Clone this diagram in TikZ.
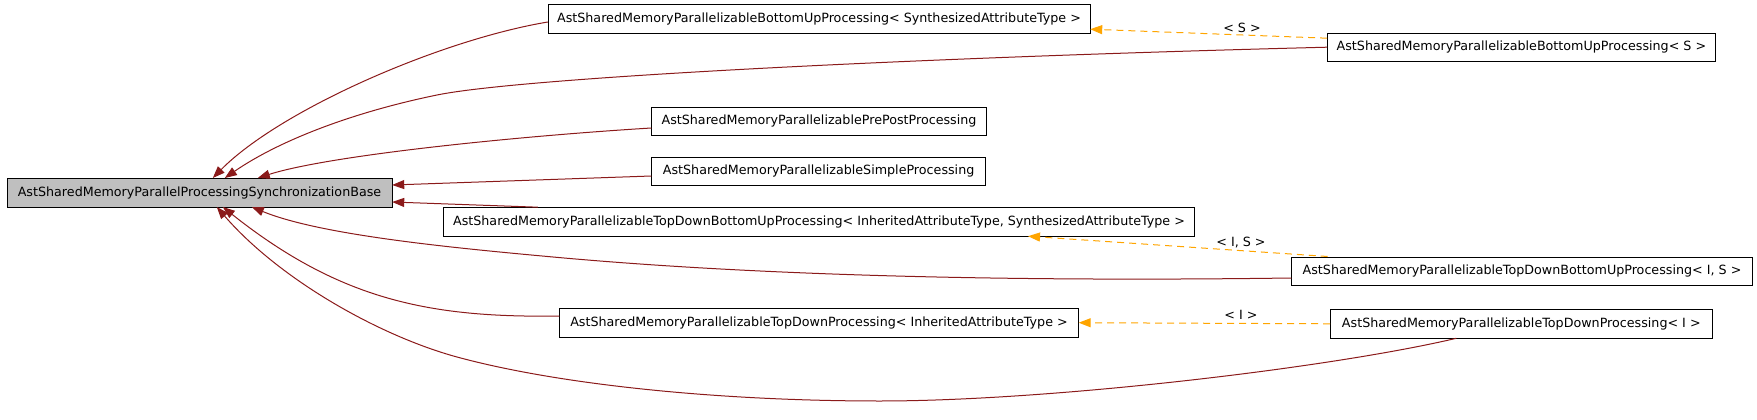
\documentclass[tikz,border=0pt]{standalone}
\usepackage{fontspec}
\setmainfont{DejaVu Sans}
\usetikzlibrary{arrows.meta}
\definecolor{inhred}{HTML}{8B1A1A}
\definecolor{tplorange}{HTML}{FFA500}
\definecolor{basegray}{HTML}{BFBFBF}
\begin{document}
\begin{tikzpicture}[x=1pt,y=-1pt,
			every node/.style={draw,fill=white,inner sep=0,minimum height=28.6pt,font=\fontsize{12.7}{15}\selectfont},
			lbl/.style={draw=none,fill=none,minimum height=0pt},
			inh/.style={color=inhred,line width=1pt,-{Triangle[length=12pt,width=9pt]}},
			tpl/.style={color=tplorange,line width=1pt,dash pattern=on 7pt off 5pt,-{Triangle[length=12pt,width=9pt]}}]
			\useasboundingbox (0,0) rectangle (1757,420);
			\node[fill=basegray,minimum width=385pt] (base) at (199.5,192.5) {AstSharedMemoryParallelProcessingSynchronizationBase};
			\node[minimum width=542pt] (bu) at (819,19) {AstSharedMemoryParallelizableBottomUpProcessing< SynthesizedAttributeType >};
			\node[minimum width=388pt] (buS) at (1521.4,47.2) {AstSharedMemoryParallelizableBottomUpProcessing< S >};
			\node[minimum width=335pt] (prepost) at (819,121) {AstSharedMemoryParallelizablePrePostProcessing};
			\node[minimum width=334pt] (simple) at (818.6,171) {AstSharedMemoryParallelizableSimpleProcessing};
			\node[minimum width=751pt] (tdbu) at (819,221.7) {AstSharedMemoryParallelizableTopDownBottomUpProcessing< InheritedAttributeType, SynthesizedAttributeType >};
			\node[minimum width=461pt] (tdbuIS) at (1522,271) {AstSharedMemoryParallelizableTopDownBottomUpProcessing< I, S >};
			\node[minimum width=519pt] (td) at (819,322.7) {AstSharedMemoryParallelizableTopDownProcessing< InheritedAttributeType >};
			\node[minimum width=382pt] (tdI) at (1521.3,323.8) {AstSharedMemoryParallelizableTopDownProcessing< I >};
			\draw[inh] ([yshift=-3pt]bu.west) .. controls (440,40) and (280,110) .. ([xshift=206pt]base.north west);
			\draw[inh] (buS.west) .. controls (900,58) and (520,78) .. (437,95) .. controls (354,112) and (280,140) .. ([xshift=218pt]base.north west);
			\draw[inh] ([yshift=-7pt]prepost.west) .. controls (520,136) and (330,155) .. ([xshift=251pt]base.north west);
			\draw[inh] ([yshift=-5pt]simple.west) -- ([yshift=-7pt]base.north east);
			\draw[inh] ([xshift=94.6pt]tdbu.north west) -- ([yshift=5pt]base.south east);
			\draw[inh] ([yshift=-7pt]tdbuIS.west) .. controls (1000,282) and (750,275) .. (553,257) .. controls (450,247.6) and (320,235) .. ([xshift=245pt]base.south west);
			\draw[inh] ([yshift=6.7pt]td.west) .. controls (430,318) and (340,300) .. ([xshift=216pt]base.south west);
			\draw[inh] ([xshift=-65pt]tdI.south) .. controls (1330,368) and (1050,401) .. (880,401) .. controls (720,401) and (560,385) .. (457,357) .. controls (380,336) and (280,280) .. ([xshift=210pt]base.south west);
			\draw[tpl] ([yshift=9pt]buS.west) -- ([yshift=4.3pt]bu.south east);
			\draw[tpl] ([xshift=36.4pt]tdbuIS.north west) -- ([xshift=209pt]tdbu.south);
			\draw[tpl] (tdI.west) -- (td.east);
			\node[lbl] (lS) at (1242,28) {< S >};
			\node[lbl] (lIS) at (1241,243) {< I, S >};
			\node[lbl] (lI) at (1241,315) {< I >};
		\end{tikzpicture}
\end{document}
